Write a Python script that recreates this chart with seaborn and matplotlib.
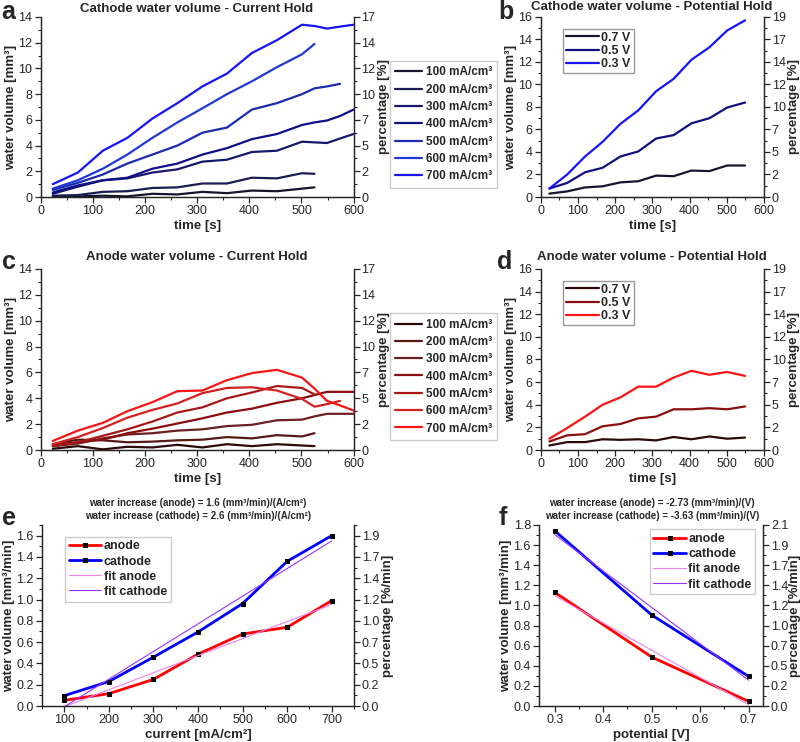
import numpy as np
import pandas as pd
import seaborn as sns
import matplotlib.pyplot as plt
from matplotlib.ticker import MultipleLocator, FuncFormatter

sns.set_theme(style="ticks")
plt.rcParams["font.family"] = ["Liberation Sans", "DejaVu Sans"]
plt.rcParams["xtick.direction"] = "out"
plt.rcParams["ytick.direction"] = "out"

# conversion water volume -> percentage of the right axes
PCT = 1.19

# --- current hold (panels a, c) ---
time_ch = [23, 71, 119, 166, 214, 262, 310, 357, 405, 453, 501, 525, 549, 574, 600]
current_labels = ["100 mA/cm³", "200 mA/cm³", "300 mA/cm³", "400 mA/cm³",
                  "500 mA/cm³", "600 mA/cm³", "700 mA/cm³"]

cath_100 = [0.0, 0.05, 0.1, 0.05, 0.25, 0.2, 0.4, 0.3, 0.5, 0.45, 0.65, 0.75]
cath_200 = [0.1, 0.15, 0.4, 0.45, 0.7, 0.75, 1.05, 1.05, 1.5, 1.45, 1.85, 1.8]
cath_300 = [0.25, 0.8, 1.3, 1.45, 1.9, 2.15, 2.75, 2.9, 3.5, 3.6, 4.3, 4.25, 4.2, 4.55, 4.9]
cath_400 = [0.35, 0.9, 1.3, 1.5, 2.2, 2.6, 3.3, 3.8, 4.5, 4.9, 5.6, 5.8, 5.95, 6.3, 6.8]
cath_500 = [0.55, 1.1, 1.75, 2.6, 3.3, 4.0, 5.0, 5.4, 6.8, 7.3, 8.0, 8.45, 8.6, 8.8]
cath_600 = [0.65, 1.3, 2.2, 3.3, 4.6, 5.8, 6.9, 8.0, 9.0, 10.1, 11.1, 11.9]
cath_700 = [1.0, 1.9, 3.6, 4.6, 6.1, 7.3, 8.6, 9.6, 11.2, 12.2, 13.4, 13.3, 13.1, 13.25, 13.4]

anod_100 = [0.1, 0.3, 0.05, 0.25, 0.2, 0.4, 0.2, 0.45, 0.3, 0.45, 0.35, 0.3]
anod_200 = [0.45, 0.8, 0.75, 0.6, 0.65, 0.75, 0.8, 1.0, 0.9, 1.15, 1.05, 1.3]
anod_300 = [0.3, 0.5, 0.9, 1.2, 1.3, 1.5, 1.6, 1.85, 1.95, 2.3, 2.35, 2.6, 2.8, 2.8, 2.8]
anod_400 = [0.4, 0.6, 0.8, 1.3, 1.65, 2.05, 2.45, 2.9, 3.2, 3.65, 4.0, 4.25, 4.5, 4.5, 4.5]
anod_500 = [0.3, 0.6, 1.1, 1.6, 2.2, 2.9, 3.3, 4.0, 4.45, 4.95, 4.8, 4.3]
anod_600 = [0.45, 1.0, 1.7, 2.5, 3.1, 3.6, 4.4, 4.8, 4.85, 4.6, 3.95, 3.35, 3.55, 3.8]
anod_700 = [0.7, 1.5, 2.1, 3.0, 3.7, 4.55, 4.6, 5.4, 5.95, 6.2, 5.6, 4.75, 3.8, 3.45, 3.05]

# --- potential hold (panels b, d) ---
time_ph = [23, 71, 119, 166, 214, 262, 310, 357, 405, 453, 501, 549]
potential_labels = ["0.7 V", "0.5 V", "0.3 V"]

cath_07 = [0.3, 0.5, 0.85, 0.95, 1.3, 1.4, 1.9, 1.85, 2.35, 2.3, 2.8, 2.8]
cath_05 = [0.75, 1.25, 2.2, 2.6, 3.6, 4.05, 5.2, 5.5, 6.55, 7.0, 7.95, 8.4]
cath_03 = [0.75, 2.0, 3.6, 4.9, 6.5, 7.7, 9.4, 10.5, 12.2, 13.3, 14.8, 15.7]

anod_07 = [0.4, 0.7, 0.7, 0.95, 0.9, 0.95, 0.85, 1.15, 0.95, 1.2, 1.0, 1.1]
anod_05 = [0.75, 1.3, 1.4, 2.1, 2.3, 2.8, 2.95, 3.6, 3.6, 3.7, 3.6, 3.85]
anod_03 = [1.0, 1.95, 2.95, 4.0, 4.65, 5.6, 5.6, 6.4, 7.0, 6.65, 6.9, 6.55]

# --- rates (panels e, f) ---
current_e = [100, 200, 300, 400, 500, 600, 700]
rate_anode_e = [0.053, 0.116, 0.25, 0.487, 0.676, 0.739, 0.99]
rate_cathode_e = [0.097, 0.23, 0.459, 0.695, 0.962, 1.358, 1.6]

potential_f = [0.3, 0.5, 0.7]
rate_anode_f = [1.13, 0.487, 0.046]
rate_cathode_f = [1.742, 0.905, 0.294]

blues = ["#15152e", "#1c1c52", "#17176c", "#0f0f86", "#1a2cab", "#1f38d6", "#1414f7"]
reds = ["#2c0a0a", "#561818", "#6b2020", "#8a0e0e", "#a81818", "#d42020", "#f71414"]
blues_p = ["#15152e", "#10107f", "#1414f7"]
reds_p = ["#2c0a0a", "#8a1010", "#f71414"]


def long_frame(times, series, labels):
    rows = []
    for vals, lab in zip(series, labels):
        for t, v in zip(times, vals):
            rows.append((t, v, lab))
    return pd.DataFrame(rows, columns=["time", "volume", "series"])


def style_axes(ax, ylim, ystep, xlim, xstep, pct_fmt, ylabel, rlabel, xlabel, rpad=2):
    ax.set_xlim(*xlim)
    ax.set_ylim(*ylim)
    ax.xaxis.set_major_locator(MultipleLocator(xstep))
    ax.xaxis.set_minor_locator(MultipleLocator(xstep / 2))
    ax.yaxis.set_major_locator(MultipleLocator(ystep))
    ax.yaxis.set_minor_locator(MultipleLocator(ystep / 2))
    ax.spines["top"].set_visible(False)
    ax.tick_params(which="major", length=4, width=0.9, labelsize=9, pad=2)
    ax.tick_params(which="minor", length=2, width=0.8)
    ax.set_xlabel(xlabel, fontsize=9.5, fontweight="bold", labelpad=2)
    ax.set_ylabel(ylabel, fontsize=9.5, fontweight="bold", labelpad=1)
    for s in ax.spines.values():
        s.set_linewidth(0.9)
    ax2 = ax.twinx()
    ax2.set_ylim(*ylim)
    ax2.yaxis.set_major_locator(MultipleLocator(ystep))
    ax2.yaxis.set_minor_locator(MultipleLocator(ystep / 2))
    ax2.yaxis.set_major_formatter(FuncFormatter(lambda v, p: pct_fmt.format(v * PCT)))
    ax2.spines["top"].set_visible(False)
    for s in ax2.spines.values():
        s.set_linewidth(0.9)
    ax2.tick_params(which="major", length=4, width=0.9, labelsize=9, pad=1.5)
    ax2.tick_params(which="minor", length=2, width=0.8)
    ax2.set_ylabel(rlabel, fontsize=9.5, fontweight="bold", labelpad=rpad)
    return ax2


fig = plt.figure(figsize=(8, 7.42), dpi=100)
ax_a = fig.add_axes([0.051, 0.7345, 0.391, 0.2426])
ax_b = fig.add_axes([0.676, 0.7345, 0.279, 0.2426])
ax_c = fig.add_axes([0.051, 0.3935, 0.391, 0.244])
ax_d = fig.add_axes([0.676, 0.3935, 0.279, 0.244])
ax_e = fig.add_axes([0.0525, 0.0485, 0.39, 0.244])
ax_f = fig.add_axes([0.674, 0.0485, 0.28, 0.244])

# current hold panels
for ax, series, pal in [
    (ax_a, [cath_100, cath_200, cath_300, cath_400, cath_500, cath_600, cath_700], blues),
    (ax_c, [anod_100, anod_200, anod_300, anod_400, anod_500, anod_600, anod_700], reds),
]:
    df = long_frame(time_ch, series, current_labels)
    sns.lineplot(data=df, x="time", y="volume", hue="series", hue_order=current_labels,
                 palette=pal, errorbar=None, lw=1.6, ax=ax)
    h, l = ax.get_legend_handles_labels()
    ax.legend(h, l, loc="upper left", bbox_to_anchor=(1.115, 0.755), frameon=True,
              fancybox=False, edgecolor="#cccccc", framealpha=1,
              prop={"weight": "bold", "size": 8.5}, labelspacing=0.45,
              handlelength=2.3, handletextpad=0.3, borderpad=0.45, borderaxespad=0)
    style_axes(ax, (0, 14), 2, (0, 600), 100, "{:.0f}",
               "water volume [mm³]", "percentage [%]", "time [s]")

# potential hold panels
for ax, series, pal in [
    (ax_b, [cath_07, cath_05, cath_03], blues_p),
    (ax_d, [anod_07, anod_05, anod_03], reds_p),
]:
    df = long_frame(time_ph, series, potential_labels)
    sns.lineplot(data=df, x="time", y="volume", hue="series", hue_order=potential_labels,
                 palette=pal, errorbar=None, lw=1.6, ax=ax)
    h, l = ax.get_legend_handles_labels()
    ax.legend(h, l, loc="upper left", bbox_to_anchor=(0.1, 0.935), frameon=True,
              fancybox=False, edgecolor="#999999", framealpha=1,
              prop={"weight": "bold", "size": 9}, labelspacing=0.1,
              handlelength=2.6, handletextpad=0.2, borderpad=0.25, borderaxespad=0)
    style_axes(ax, (0, 16), 2, (0, 600), 100, "{:.0f}",
               "water volume [mm³]", "percentage [%]", "time [s]")

# rate panels
marker_kw = dict(marker="s", markersize=3.5, markerfacecolor="black", markeredgecolor="black")
for ax, x, an, ca, xfit in [
    (ax_e, current_e, rate_anode_e, rate_cathode_e, [100, 700]),
    (ax_f, potential_f, rate_anode_f, rate_cathode_f, [0.3, 0.7]),
]:
    sns.lineplot(x=x, y=an, color="#ff0000", lw=2, label="anode", ax=ax, **marker_kw)
    sns.lineplot(x=x, y=ca, color="#0000ff", lw=2, label="cathode", ax=ax, **marker_kw)
    fa = np.polyfit(x, an, 1)
    fc = np.polyfit(x, ca, 1)
    ax.plot(xfit, np.polyval(fa, xfit), color="#ee82ee", lw=0.8, label="fit anode")
    ax.plot(xfit, np.polyval(fc, xfit), color="#9b30ff", lw=0.8, label="fit cathode")

leg_kw = dict(frameon=True, fancybox=False, edgecolor="#cccccc", framealpha=1,
              prop={"weight": "bold", "size": 9}, labelspacing=0.25, handlelength=2.6,
              handletextpad=0.2, borderpad=0.3, borderaxespad=0)
ax_e.legend(loc="upper left", bbox_to_anchor=(0.074, 0.935), **leg_kw)
ax_f.legend(loc="upper right", bbox_to_anchor=(0.965, 0.975), **leg_kw)
style_axes(ax_e, (0, 1.7), 0.2, (50, 750), 100, "{:.1f}",
           "water volume [mm³/min]", "percentage [%/min]", "current [mA/cm²]")
style_axes(ax_f, (0, 1.8), 0.2, (0.268, 0.73), 0.1, "{:.1f}",
           "water volume [mm³/min]", "percentage [%/min]", "potential [V]", rpad=0.5)
ax_e.yaxis.set_major_formatter(FuncFormatter(lambda v, p: f"{v:.1f}"))
ax_f.yaxis.set_major_formatter(FuncFormatter(lambda v, p: f"{v:.1f}"))
ax_f.xaxis.set_major_formatter(FuncFormatter(lambda v, p: f"{v:.1f}"))

# titles
title_kw = dict(ha="center", va="center", fontsize=9.5, fontweight="bold")
fig.text(0.246, 0.988, "Cathode water volume - Current Hold", **title_kw)
fig.text(0.815, 0.991, "Cathode water volume - Potential Hold", **title_kw)
fig.text(0.246, 0.653, "Anode water volume - Current Hold", **title_kw)
fig.text(0.815, 0.653, "Anode water volume - Potential Hold", **title_kw)

sub_kw = dict(ha="center", va="center", fontsize=7, fontweight="bold")
fig.text(0.247, 0.322, "water increase (anode) = 1.6 (mm³/min)/(A/cm²)", **sub_kw)
fig.text(0.247, 0.305, "water increase (cathode) = 2.6 (mm³/min)/(A/cm²)", **sub_kw)
fig.text(0.815, 0.322, "water increase (anode) = -2.73 (mm³/min)/(V)", **sub_kw)
fig.text(0.815, 0.305, "water increase (cathode) = -3.63 (mm³/min)/(V)", **sub_kw)

letter_kw = dict(ha="left", va="center", fontsize=18, fontweight="bold")
fig.text(0.002, 0.984, "a", **letter_kw)
fig.text(0.623, 0.984, "b", **letter_kw)
fig.text(0.002, 0.647, "c", **letter_kw)
fig.text(0.621, 0.647, "d", **letter_kw)
fig.text(0.002, 0.302, "e", **letter_kw)
fig.text(0.623, 0.302, "f", **letter_kw)

fig.savefig("out.png", dpi=100)
